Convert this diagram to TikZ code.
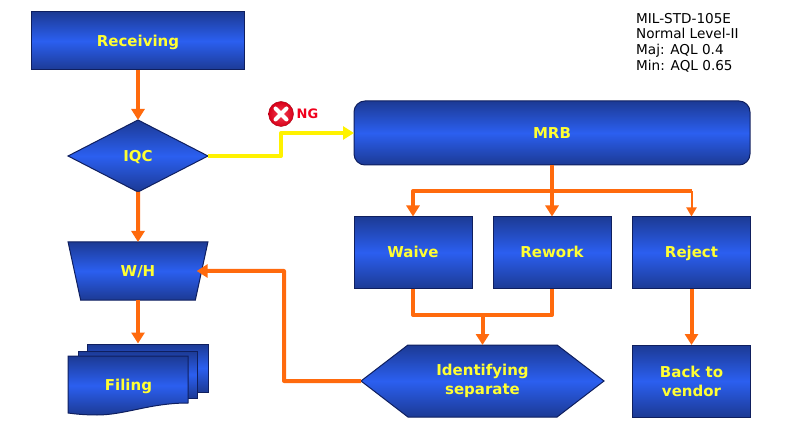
\documentclass[tikz,border=0pt]{standalone}
\usepackage{fontspec}
\setmainfont{DejaVu Sans}
\usetikzlibrary{arrows.meta, shapes.geometric, shapes.symbols}
\definecolor{navyedge}{HTML}{0F1F5F}
\definecolor{navytop}{HTML}{1C3A94}
\definecolor{bluemid}{HTML}{2B5FF0}
\definecolor{flowline}{HTML}{FF6A0D}
\definecolor{labelyellow}{HTML}{FFFF33}
\definecolor{ngred}{HTML}{F0001C}
\begin{document}
\begin{tikzpicture}[
  x=1pt, y=-1pt,
  bluefill/.style={
    draw=navyedge, line width=1pt,
    top color=navytop, bottom color=navytop, middle color=bluemid
  },
  flowbox/.style={
    bluefill, inner sep=0pt, outer sep=0pt, align=center,
    text=labelyellow, font=\fontsize{15}{19}\selectfont\bfseries
  },
  oneline/.style={
    text height=11pt, text depth=0pt
  },
  actionbox/.style={
    flowbox, rectangle, minimum width=118pt, minimum height=72pt
  },
  flowline/.style={
    draw=flowline, line width=4pt, line join=round,
    -{Triangle[width=13pt,length=11pt]}
  },
  plainline/.style={
    draw=flowline, line width=4pt, line join=round
  }
  ]
  \useasboundingbox (0,0) rectangle (800,438);

  \node[flowbox, oneline, rectangle, minimum width=213pt, minimum height=58pt] (receiving) at (138,41) {Receiving};
  \node[flowbox, oneline, diamond, minimum width=140pt, minimum height=72pt] (iqc) at (138,156) {IQC};
  \node[flowbox, oneline, trapezium, shape border rotate=180, trapezium left angle=71, trapezium right angle=71,
    trapezium stretches=true, minimum width=140pt, minimum height=58pt] (wh) at (138,271) {W/H};

  \node[bluefill, rectangle, minimum width=121pt, minimum height=48pt] (filingback) at (147.5,368) {};
  \node[bluefill, rectangle, minimum width=119pt, minimum height=47pt] (filingmid) at (137.5,374.5) {};
  \shadedraw[bluefill] (68,356) -- (188,356) -- (188,403)
    .. controls (150,403) and (125,415) .. (97,415)
    .. controls (85,415) and (75,414) .. (68,413) -- cycle;
  \node[oneline, text=labelyellow, font=\fontsize{15}{19}\selectfont\bfseries] (filing) at (128.5,385) {Filing};

  \node[flowbox, oneline, rectangle, rounded corners=11pt, minimum width=396pt, minimum height=64pt] (mrb) at (552,133) {MRB};
  \node[actionbox, oneline] (waive) at (413,252.5) {Waive};
  \node[actionbox, oneline] (rework) at (552,252.5) {Rework};
  \node[actionbox, oneline] (reject) at (691.5,252.5) {Reject};
  \node[actionbox] (vendor) at (691.5,381) {Back to\\vendor};
  \node[flowbox, signal, signal to=west and east, signal pointer angle=75,
    minimum width=243pt, minimum height=72pt] (identify) at (482.5,381) {Identifying\\separate};

  \node[circle, inner sep=0pt, minimum size=25pt, draw=ngred!70!black, inner color=ngred!75!white, outer color=ngred!90!black] (ngmark) at (281,114) {};
  \draw[white, line width=4pt, line cap=round] (ngmark.center) ++(-5.5,-5.5) -- ++(11,11);
  \draw[white, line width=4pt, line cap=round] (ngmark.center) ++(5.5,-5.5) -- ++(-11,11);
  \node[text=ngred, font=\fontsize{13}{15}\selectfont\bfseries, anchor=west, inner sep=0pt] (nglabel) at (296.5,114) {NG};

  \node[anchor=north west, inner sep=0pt, align=left, font=\fontsize{13.6}{15.7}\selectfont] (spec) at (636,13)
    {MIL-STD-105E\\Normal Level-II\\Maj: AQL 0.4\\Min: AQL 0.65};

  \coordinate (ngturn) at (281,145);
  \coordinate (mrbsplit) at (552,191);
  \coordinate (mergeleft) at (413,315);
  \coordinate (mergemid) at (482.5,315);
  \coordinate (whturn) at (284,271);

  \draw[flowline] (receiving.south) -- (iqc.north);
  \draw[flowline] (iqc.south) -- (wh.north);
  \draw[flowline] (wh.south) -- (wh.south |- filingback.north);

  \draw[draw=yellow, line width=4pt, line join=round, -{Triangle[width=13pt,length=11pt]}]
    (iqc.east) -| (ngturn) |- (mrb.west);

  \draw[plainline] (waive.north |- mrbsplit) -- (reject.north |- mrbsplit);
  \draw[flowline] (mrb.south) -- (rework.north);
  \draw[flowline] (mrbsplit) -| (waive.north);
  \draw[flowline, line width=2pt, -{Triangle[width=10pt,length=9pt]}] (reject.north |- mrbsplit) -- (reject.north);

  \draw[plainline] (waive.south) |- (mergeleft -| rework.south) -- (rework.south);
  \draw[flowline] (mergemid) -- (identify.north);
  \draw[flowline] (reject.south) -- (vendor.north);
  \draw[flowline, shorten >=-5pt] (identify.west) -| (whturn) -- (wh.east);
\end{tikzpicture}
\end{document}
